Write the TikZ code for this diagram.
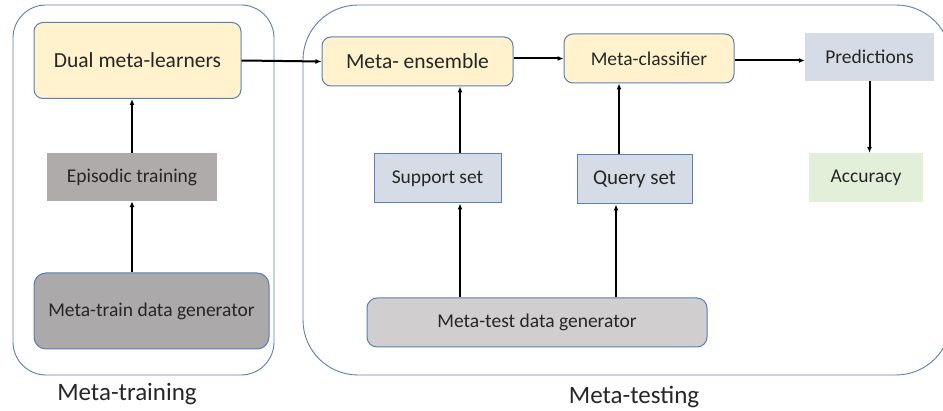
\documentclass[tikz,border=0pt]{standalone}
\usepackage{fontspec}
\setmainfont{Carlito}
\usetikzlibrary{arrows.meta,calc}
\definecolor{edgeblue}{HTML}{5B7DB8}
\definecolor{cream}{HTML}{FFF2CC}
\definecolor{greyA}{HTML}{AFABAB}
\definecolor{greyB}{HTML}{ABA9AA}
\definecolor{greyC}{HTML}{D0CECE}
\definecolor{slate}{HTML}{D6DCE5}
\definecolor{mint}{HTML}{E2F0D9}
\definecolor{ink}{HTML}{262626}
\tikzset{
  base/.style={inner sep=0pt, text=ink, font=\fontsize{19.5}{22}\selectfont},
  yellowbox/.style={base, fill=cream, draw=edgeblue, line width=1pt, rounded corners=9pt},
  plainbox/.style={base, draw=none},
  slatebox/.style={base, fill=slate, draw=edgeblue, line width=1pt},
  genbox/.style={base, draw=edgeblue, line width=1pt, rounded corners=10pt},
  panel/.style={draw=edgeblue, line width=0.9pt},
  arr/.style={-{Latex[length=6pt,width=5pt]}, line width=2pt, black},
  caption/.style={text=ink, font=\fontsize{25}{28}\selectfont, inner sep=0pt}
}
\begin{document}
\begin{tikzpicture}[x=1pt, y=-1pt]
\useasboundingbox (0,0) rectangle (943,411);
\clip (0,0) rectangle (943,411);

% the two phase panels
\draw[panel, rounded corners=33pt] (13,5) rectangle (274,375);
\draw[panel, rounded corners=55pt] (303,5) rectangle (951,375);

% meta-training
\node[yellowbox, minimum width=207pt, minimum height=76pt, font=\fontsize{21.5}{24}\selectfont] (dual) at (137.5,60.5) {Dual meta-learners};
\node[plainbox, fill=greyA, minimum width=170pt, minimum height=48pt] (epi) at (132,177) {Episodic training};
\node[genbox, fill=greyB, minimum width=235pt, minimum height=76pt, rounded corners=12pt] (gentrain) at (151.5,311) {Meta-train data generator};

% meta-testing
\node[yellowbox, minimum width=191pt, minimum height=49pt, font=\fontsize{21.5}{24}\selectfont] (ens) at (417.5,61.5) {Meta- ensemble};
\node[yellowbox, minimum width=170pt, minimum height=49pt] (cls) at (649,58.5) {Meta-classifier};
\node[plainbox, fill=slate, minimum width=129pt, minimum height=48pt] (pred) at (869.5,57) {Predictions};
\node[plainbox, fill=mint, minimum width=114pt, minimum height=49pt] (acc) at (866,177.5) {Accuracy};
\node[slatebox, minimum width=127pt, minimum height=49pt] (sup) at (437.5,178.5) {Support set};
\node[slatebox, minimum width=115pt, minimum height=49pt, font=\fontsize{21}{24}\selectfont] (qry) at (634.5,179.5) {Query set};
\node[genbox, fill=greyC, minimum width=340pt, minimum height=49pt] (gentest) at (537,322.5) {Meta-test data generator};

% captions
\node[caption] (lbltrain) at (127,394) {Meta-training};
\node[caption] (lbltest) at (634,397) {Meta-testing};

% flow of the training phase
\draw[arr] (epi.north) -- (epi.north |- dual.south);
\draw[arr] (epi.south |- gentrain.north) -- (epi.south);
\draw[arr] (dual.east) -- (ens.west);

% flow of the testing phase
\draw[arr] ([yshift=3pt]ens.east) -- (cls.west);
\draw[arr] ([yshift=-2pt]cls.east) -- ([yshift=-2pt]cls.east -| pred.west);
\draw[arr] (pred.south) -- (pred.south |- acc.north);
\draw[arr] ([xshift=22.5pt]sup.north) -- ([xshift=22.5pt]sup.north |- ens.south);
\draw[arr] ([xshift=-15.5pt]qry.north) -- ([xshift=-15.5pt]qry.north |- cls.south);
\draw[arr] ([xshift=22.5pt]sup.south |- gentest.north) -- ([xshift=22.5pt]sup.south);
\draw[arr] ([xshift=-18.5pt]qry.south |- gentest.north) -- ([xshift=-18.5pt]qry.south);
\end{tikzpicture}
\end{document}
